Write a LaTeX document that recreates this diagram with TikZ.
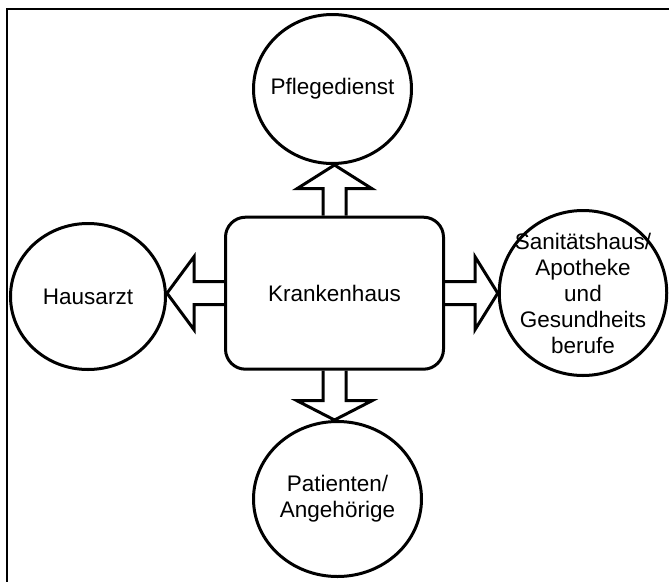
\documentclass[tikz,border=0pt]{standalone}
\usepackage{fontspec}
\setmainfont{Liberation Sans}
\usetikzlibrary{shapes.geometric,calc}

\begin{document}
\begin{tikzpicture}[x=1pt,y=-1pt,
    frame/.style = {draw, line width=2pt},
    partner/.style = {shape=ellipse, draw, line width=3pt,
      inner sep=0pt},
    center/.style = {shape=rectangle, rounded corners=20pt,
      draw, line width=3pt, align=center,
      minimum width=218pt, minimum height=152pt,
      font=\fontsize{22.5}{26}\selectfont},
    txt/.style = {align=center, inner sep=0pt,
      font=\fontsize{22.5}{26}\selectfont},
    blockarrow/.style = {draw, line width=3pt, line join=miter}]
    \useasboundingbox (0,0) rectangle (669,581);
    \clip (0,0) rectangle (669,581);
    \draw[frame] (6.7,9) rectangle (700,620);

    \node[center] (kh) at (334.5,293.2) {Krankenhaus};
    \node[partner, minimum width=158pt, minimum height=149pt] (pd) at (332.5,89) {};
    \node[partner, minimum width=155pt, minimum height=146pt] (hz) at (88,296.5) {};
    \node[partner, minimum width=167.5pt, minimum height=165pt] (sg) at (583,293) {};
    \node[partner, minimum width=168pt, minimum height=155pt] (pa) at (337.5,499) {};

    \node[txt] (pdtext) at (pd) {Pflegedienst};
    \node[txt] (hztext) at (hz) {Hausarzt};
    \node[txt] (sgtext) at (sg) {Sanitätshaus/\\Apotheke\\und\\Gesundheits\\berufe};
    \node[txt] (patext) at (pa) {Patienten/\\Angehörige};

    % block arrows
    \draw[blockarrow] ($(kh.north)+(-11.5,0)$) -- ++(0,-27) -- ++(-26,0)
      -- (kh.north |- pd.south) -- ($(kh.north)+(37.5,-27)$) -- ++(-26,0)
      -- ($(kh.north)+(11.5,0)$);
    \draw[blockarrow] ($(kh.south)+(-11.5,0)$) -- ++(0,30) -- ++(-26,0)
      -- (kh.south |- pa.north) -- ($(kh.south)+(37.5,30)$) -- ++(-26,0)
      -- ($(kh.south)+(11.5,0)$);
    \draw[blockarrow] ($(kh.west)+(0,-11.5)$) -- ++(-30,0) -- ++(0,-25)
      -- (kh.west -| hz.east) -- ($(kh.west)+(-30,36.5)$) -- ++(0,-25)
      -- ($(kh.west)+(0,11.5)$);
    \draw[blockarrow] ($(kh.east)+(0,-11.5)$) -- ++(30,0) -- ++(0,-25)
      -- (kh.east -| sg.west) -- ($(kh.east)+(30,36.5)$) -- ++(0,-25)
      -- ($(kh.east)+(0,11.5)$);
\end{tikzpicture}
\end{document}
